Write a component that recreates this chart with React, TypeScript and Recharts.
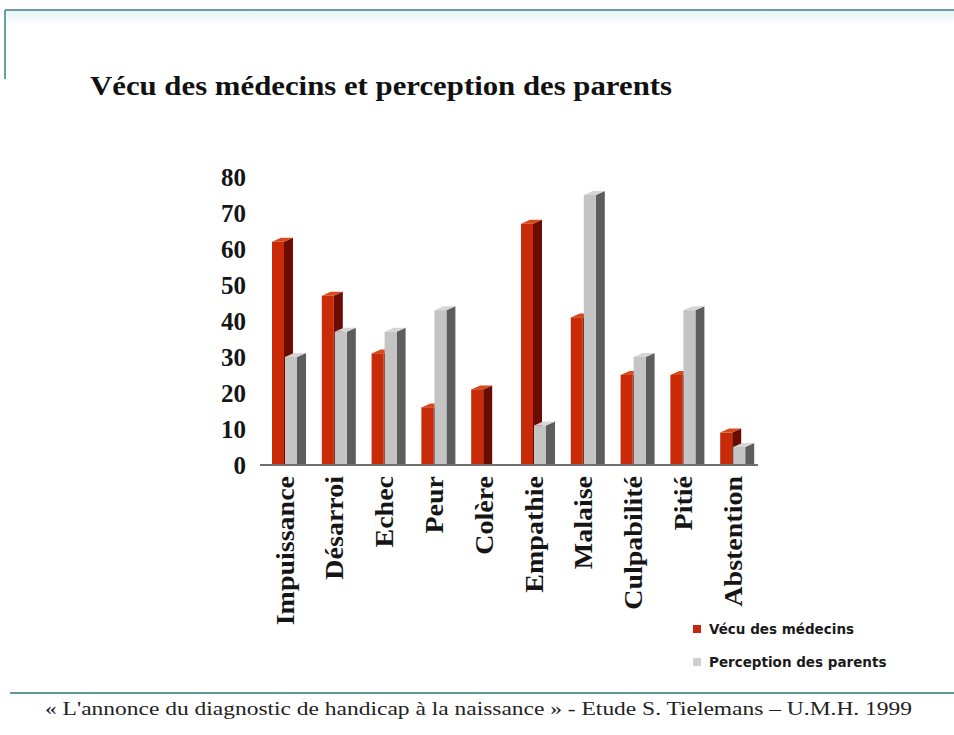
import React from "react";
import { BarChart, Bar, XAxis, YAxis } from "recharts";

// Vécu des médecins vs perception des parents (%)
const categories = [
  "Impuissance", "Désarroi", "Echec", "Peur", "Colère",
  "Empathie", "Malaise", "Culpabilité", "Pitié", "Abstention",
];
const medecins = [62, 47, 31, 16, 21, 67, 41, 25, 25, 9];
const parents = [30, 37, 37, 43, 0, 11, 75, 30, 43, 5];
const yTicks = [0, 10, 20, 30, 40, 50, 60, 70, 80];

const seriesNames = ["Vécu des médecins", "Perception des parents"];
const legendColors = ["#c3280f", "#cfcfcf"];

const data = categories.map((name, i) => ({ name, medecins: medecins[i], parents: parents[i] }));

const serif = "'Liberation Serif', 'Times New Roman', serif";

// fake 3D column: front face + dark side + lighter cap
function make3D(front: string, side: string, cap: string) {
  return (props: any) => {
    const { x, y, width, height } = props;
    if (!height || height <= 0) return <g />;
    const d = 9, e = 4;
    const base = y + height;
    return (
      <g>
        <polygon points={`${x + width},${y} ${x + width + d},${y - e} ${x + width + d},${base} ${x + width},${base}`} fill={side} />
        <polygon points={`${x},${y} ${x + d},${y - e} ${x + width + d},${y - e} ${x + width},${y}`} fill={cap} />
        <rect x={x} y={y} width={width} height={height} fill={front} />
      </g>
    );
  };
}

const RedBar = make3D("#c92a08", "#6a0c02", "#d9481a");
const GreyBar = make3D("#c4c4c4", "#5d5d5d", "#d6d6d6");

// rotated label, stretched a bit along its length like the slide
function CatTick({ x, y, payload }: any) {
  const ty = y + 11;
  return (
    <text transform={`translate(${x}, ${ty}) rotate(-90) scale(1.12, 1)`} x={0} y={0}
      textAnchor="end" dy="0.35em"
      fontFamily={serif} fontWeight="bold" fontSize={25} fill="#151515">
      {payload.value}
    </text>
  );
}

export default function App() {
  return (
    <div style={{ position: "absolute", left: 0, top: 0, width: 954, height: 735, background: "#fff", overflow: "hidden" }}>
      {/* slide frame */}
      <svg width={954} height={735} style={{ position: "absolute", left: 0, top: 0 }}>
        <defs>
          <linearGradient id="topfade" x1="0" y1="0" x2="0" y2="1">
            <stop offset="0%" stopColor="#e6f4f4" />
            <stop offset="100%" stopColor="#ffffff" />
          </linearGradient>
        </defs>
        <rect x={6} y={11} width={948} height={14} fill="url(#topfade)" />
        <line x1={5} y1={10} x2={954} y2={10} stroke="#6b9e9e" strokeWidth={2} />
        <line x1={5} y1={10} x2={5} y2={79} stroke="#6b9e9e" strokeWidth={2} />
        <text x={90} y={95} fontFamily={serif} fontWeight="bold" fontSize={27} fill="#111"
          textLength={582} lengthAdjust="spacingAndGlyphs">
          Vécu des médecins et perception des parents
        </text>
        <line x1={10} y1={693} x2={954} y2={693} stroke="#5f9a9a" strokeWidth={2} />
        <text x={45} y={715} fontFamily={serif} fontSize={18} fill="#222"
          textLength={867} lengthAdjust="spacingAndGlyphs">
          « L'annonce du diagnostic de handicap à la naissance » - Etude S. Tielemans – U.M.H. 1999
        </text>
      </svg>

      <div style={{ position: "absolute", left: 0, top: 0 }}>
        <BarChart width={954} height={735} data={data} barSize={12} barGap={1}
          margin={{ top: 177, right: 196, bottom: 110, left: 200 }}>
          <XAxis dataKey="name" interval={0} height={160} tick={<CatTick />} tickLine={false}
            tickSize={0} tickMargin={0} axisLine={{ stroke: "#6f6f6f", strokeWidth: 2 }} />
          <YAxis width={60} domain={[0, 80]} ticks={yTicks} axisLine={false} tickLine={false}
            tickSize={0} tickMargin={14}
            tick={{ fontFamily: serif, fontWeight: "bold", fontSize: 25, fill: "#151515" }} />
          <Bar dataKey="medecins" name={seriesNames[0]} shape={RedBar} isAnimationActive={false} />
          <Bar dataKey="parents" name={seriesNames[1]} shape={GreyBar} isAnimationActive={false} />
        </BarChart>
      </div>

      {/* legend */}
      <div style={{ position: "absolute", left: 693, top: 619, fontFamily: "'DejaVu Sans', sans-serif", fontWeight: "bold", fontSize: 13.5, color: "#1a1a1a" }}>
        {seriesNames.map((n, i) => (
          <div key={n} style={{ display: "flex", alignItems: "center", height: 20, marginBottom: i === 0 ? 13 : 0 }}>
            <span style={{ display: "inline-block", width: 8, height: 8, background: legendColors[i], marginRight: 8 }} />
            {n}
          </div>
        ))}
      </div>
    </div>
  );
}
